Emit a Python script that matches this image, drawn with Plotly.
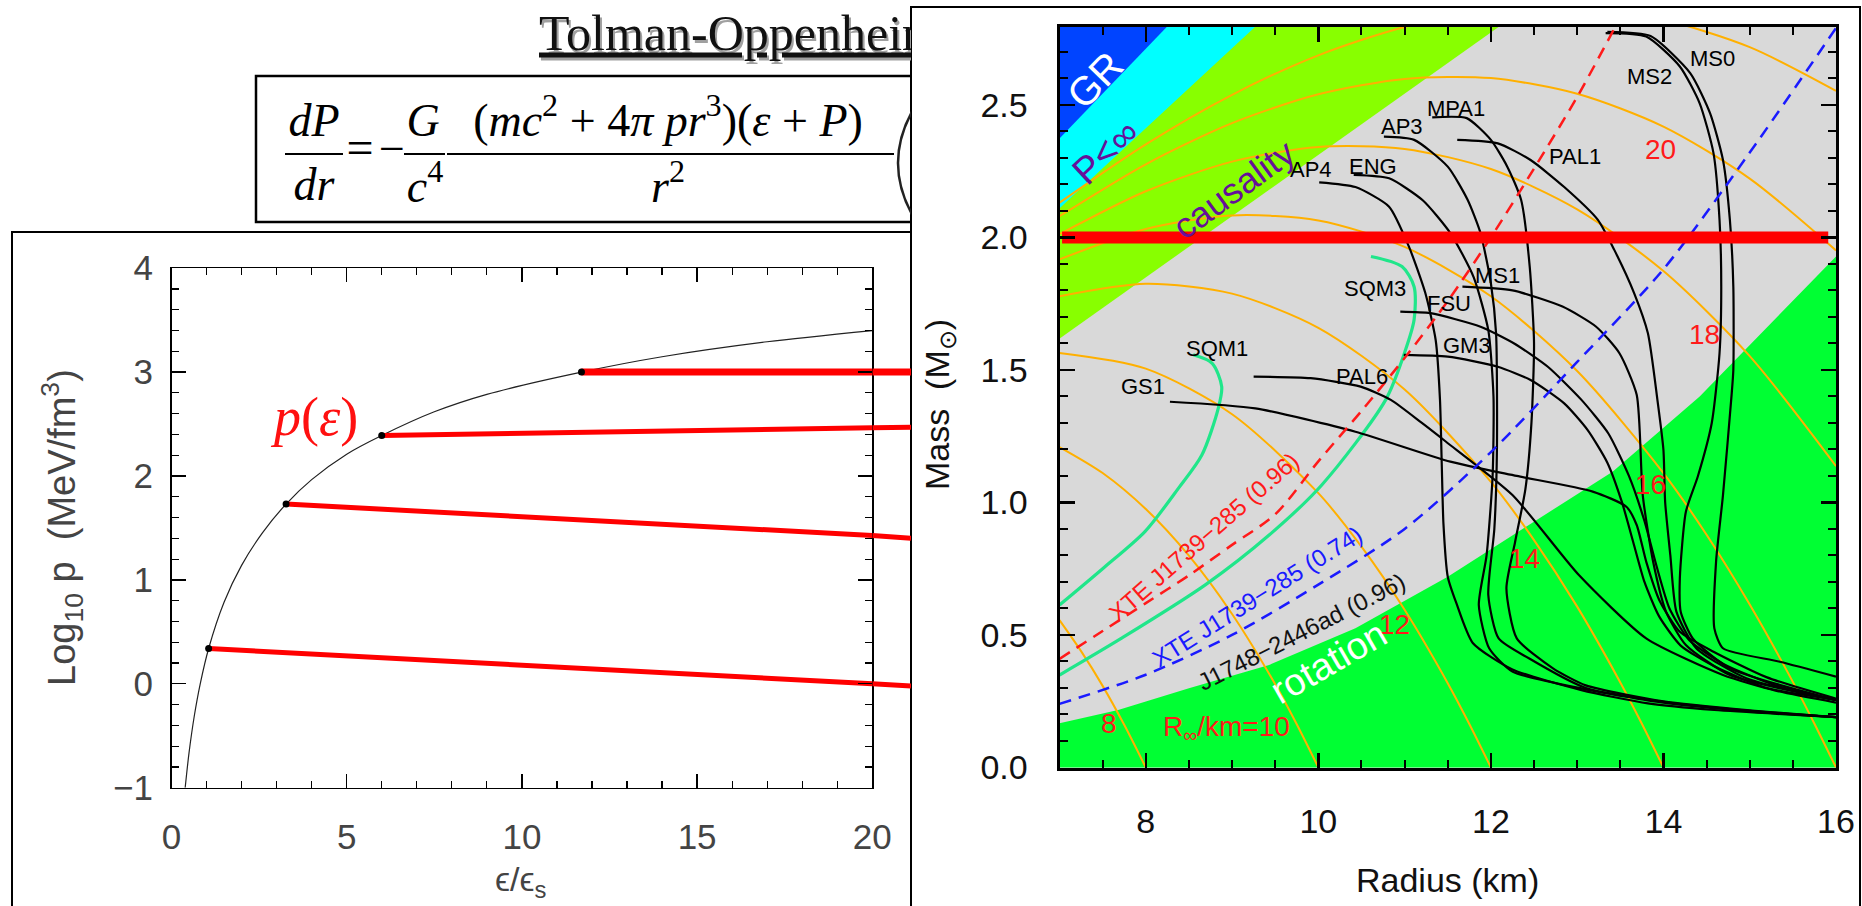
import plotly.graph_objects as go

W, H = 1862, 906
SANS = "Liberation Sans, Arial, sans-serif"
SERIF = "Liberation Serif, Times New Roman, serif"

# ---------------- Left panel data: p(eps) ----------------
eps_curve = [0.39, 0.5, 0.65, 0.82, 1.06, 1.5, 2.0, 2.6, 3.27, 4.0, 5.0, 6.0, 7.5, 9.0, 11.7, 14.0, 17.0, 20.0]
logp_curve = [-1.0, -0.665, -0.31, 0.0, 0.34, 0.785, 1.14, 1.455, 1.73, 1.965, 2.21, 2.39, 2.618, 2.786, 3.0, 3.148, 3.292, 3.40]

seg_eps_start = [1.06, 3.27, 6.0, 11.7]
seg_logp_start = [0.34, 1.73, 2.39, 3.0]
seg_eps_frame = 20.0
seg_logp_frame = [0.0, 1.427, 2.465, 3.0]
seg_eps_edge = 21.12
seg_logp_edge = [-0.02, 1.40, 2.47, 3.0]

# ---------------- Right panel data: mass-radius ----------------
gr_R, gr_M = [6.9, 8.6], [2.339, 2.915]
buch_R, buch_M = [6.9, 9.7], [2.080, 2.925]
caus_R, caus_M = [6.9, 12.7], [1.595, 2.935]
rot_R = [7.0, 7.68, 8.5, 9.43, 10.43, 11.5, 12.44, 13.41, 14.42, 14.96, 16.0]
rot_M = [0.167, 0.217, 0.299, 0.387, 0.525, 0.72, 0.915, 1.116, 1.40, 1.58, 1.928]
region_top, region_bottom, region_left, region_right = 3.1, -0.1, 6.9, 16.3

rinf_curves = {
    8: ([7.0, 7.25, 7.5, 7.75, 8.0], [0.556, 0.439, 0.308, 0.161, 0.0]),
    10: ([7.0, 7.5, 8.0, 8.5, 9.0, 9.5, 9.75, 10.0], [1.209, 1.111, 0.975, 0.799, 0.579, 0.314, 0.163, 0.0]),
    12: ([7, 8, 9, 10, 10.5, 11, 11.5, 11.75, 12], [1.564, 1.505, 1.333, 1.035, 0.833, 0.595, 0.318, 0.164, 0.0]),
    14: ([7, 8, 9, 10, 11, 12, 12.5, 13, 13.5, 13.75, 14],
         [1.778, 1.825, 1.788, 1.659, 1.426, 1.078, 0.858, 0.607, 0.321, 0.165, 0.0]),
    16: ([7, 8, 9, 10, 11, 12, 13, 14, 14.5, 15, 15.5, 15.75, 16],
         [1.917, 2.032, 2.083, 2.064, 1.964, 1.778, 1.496, 1.111, 0.878, 0.615, 0.323, 0.165, 0.0]),
    18: ([7, 8, 9, 10, 11, 12, 13, 14, 15, 16], [2.012, 2.174, 2.286, 2.341, 2.334, 2.258, 2.106, 1.873, 1.552, 1.137]),
    20: ([7, 8, 9, 10, 11, 12, 13, 14, 15, 16], [2.080, 2.276, 2.431, 2.540, 2.598, 2.601, 2.542, 2.418, 2.222, 1.951]),
    22: ([7, 8, 9, 10, 11, 12, 13, 14, 15, 16], [2.131, 2.351, 2.538, 2.687, 2.794, 2.855, 2.865, 2.821, 2.718, 2.553]),
}

eos_curves = {
    "AP4": ([10.01, 10.43, 10.82, 11.05, 11.24, 11.36, 11.41, 11.43, 11.45, 11.5, 11.6, 11.79, 12.25, 13.05, 13.82, 14.59, 16.0],
            [2.208, 2.19, 2.116, 1.965, 1.79, 1.613, 1.387, 1.15, 0.92, 0.72, 0.62, 0.47, 0.37, 0.292, 0.242, 0.217, 0.19]),
    "ENG": ([10.41, 10.82, 11.21, 11.53, 11.8, 11.97, 12.03, 12.02, 11.95, 11.86, 11.98, 12.25, 13.1, 14.0, 15.0, 16.0],
            [2.236, 2.223, 2.14, 2.016, 1.85, 1.65, 1.4, 1.1, 0.8, 0.613, 0.45, 0.362, 0.295, 0.245, 0.212, 0.19]),
    "AP3": ([10.76, 11.11, 11.5, 11.73, 11.88, 12.0, 12.06, 12.07, 12.04, 11.97, 12.09, 12.44, 13.1, 14.0, 15.0, 16.0],
            [2.38, 2.368, 2.267, 2.142, 2.016, 1.827, 1.638, 1.2, 0.9, 0.651, 0.487, 0.412, 0.30, 0.248, 0.214, 0.19]),
    "MPA1": ([11.32, 11.72, 12.0, 12.19, 12.35, 12.45, 12.5, 12.47, 12.4, 12.28, 12.18, 12.3, 12.72, 13.1, 14.0, 15.0, 16.0],
             [2.453, 2.45, 2.368, 2.267, 2.142, 1.89, 1.6, 1.3, 1.05, 0.85, 0.676, 0.487, 0.374, 0.31, 0.25, 0.216, 0.19]),
    "PAL1": ([11.61, 12.08, 12.46, 12.85, 13.24, 13.43, 13.66, 13.82, 13.93, 14.0, 14.02, 14.08, 14.15, 14.38, 14.96, 16.0],
             [2.368, 2.355, 2.292, 2.19, 2.066, 1.953, 1.79, 1.638, 1.387, 1.198, 1.0, 0.8, 0.588, 0.45, 0.337, 0.255]),
    "MS1": ([11.67, 12.25, 12.83, 13.22, 13.49, 13.69, 13.76, 13.88, 14.03, 14.26, 14.77, 16.0],
            [1.814, 1.80, 1.739, 1.663, 1.563, 1.406, 1.028, 0.777, 0.588, 0.462, 0.349, 0.255]),
    "MS2": ([13.33, 13.8, 14.19, 14.42, 14.58, 14.65, 14.67, 14.65, 14.56, 14.4, 14.26, 14.19, 14.2, 14.34, 14.77, 16.0],
            [2.771, 2.758, 2.645, 2.506, 2.318, 2.066, 1.814, 1.563, 1.3, 1.1, 0.965, 0.714, 0.588, 0.487, 0.374, 0.255]),
    "MS0": ([13.35, 13.85, 14.31, 14.54, 14.69, 14.77, 14.81, 14.81, 14.79, 14.69, 14.61, 14.59, 14.69, 15.35, 16.0],
            [2.776, 2.76, 2.62, 2.469, 2.292, 2.066, 1.814, 1.5, 1.406, 1.028, 0.777, 0.525, 0.45, 0.399, 0.343]),
    "FSU": ([10.95, 11.3, 11.88, 12.27, 12.66, 13.05, 13.36, 13.6, 13.78, 13.92, 14.07, 14.3, 14.7, 15.3, 16.0],
            [1.72, 1.714, 1.663, 1.60, 1.512, 1.387, 1.261, 1.10, 0.93, 0.76, 0.60, 0.48, 0.39, 0.31, 0.255]),
    "GM3": ([10.99, 11.5, 12.08, 12.46, 12.85, 13.12, 13.35, 13.52, 13.65, 13.78, 13.95, 14.2, 14.6, 15.2, 16.0],
            [1.557, 1.55, 1.512, 1.462, 1.374, 1.274, 1.15, 1.0, 0.85, 0.70, 0.57, 0.46, 0.38, 0.30, 0.255]),
    "PAL6": ([9.25, 9.91, 10.49, 10.84, 11.2, 11.48, 12.25, 13.02, 13.8, 14.69, 15.3, 16.0],
             [1.475, 1.469, 1.437, 1.387, 1.30, 1.229, 1.028, 0.726, 0.487, 0.349, 0.29, 0.245]),
    "GS1": ([8.28, 9.27, 10.43, 11.53, 12.3, 13.18, 13.57, 13.69, 13.8, 13.96, 14.19, 14.58, 15.2, 16.0],
            [1.38, 1.355, 1.267, 1.154, 1.10, 1.041, 0.984, 0.915, 0.777, 0.626, 0.512, 0.437, 0.34, 0.26]),
}

sqm_curves = {
    "SQM1": ([8.55, 8.77, 8.88, 8.84, 8.65, 8.38, 7.99, 7.5, 7.0],
             [1.557, 1.525, 1.437, 1.355, 1.179, 1.054, 0.89, 0.75, 0.613]),
    "SQM3": ([10.61, 10.97, 11.11, 11.11, 11.01, 10.78, 10.04, 9.43, 8.69, 7.72, 7.0],
             [1.928, 1.89, 1.814, 1.689, 1.575, 1.387, 1.066, 0.877, 0.689, 0.488, 0.349]),
}

xte96_R = [7.0, 7.5, 8.0, 8.5, 9.0, 9.5, 10.0, 10.5, 11.0, 11.5, 12.0, 12.5, 13.0, 13.45]
xte96_M = [0.41, 0.515, 0.62, 0.725, 0.84, 0.955, 1.155, 1.345, 1.545, 1.76, 2.0, 2.26, 2.53, 2.80]
xte74_R = [7.0, 8.0, 9.0, 10.0, 11.0, 12.0, 13.0, 14.0, 15.0, 16.0]
xte74_M = [0.24, 0.35, 0.50, 0.69, 0.90, 1.19, 1.53, 1.88, 2.32, 2.79]

two_solar_R = [7.03, 15.91]
two_solar_M = [2.0, 2.0]

eos_label_names = ["GS1", "SQM1", "PAL6", "SQM3", "AP4", "ENG", "AP3", "MPA1", "PAL1", "MS2", "MS0", "MS1", "FSU", "GM3"]
eos_label_R = [7.97, 8.83, 10.51, 10.66, 9.91, 10.63, 10.97, 11.6, 12.97, 13.84, 14.57, 12.08, 11.52, 11.72]
eos_label_M = [1.437, 1.582, 1.475, 1.808, 2.255, 2.267, 2.418, 2.488, 2.305, 2.607, 2.676, 1.858, 1.752, 1.594]

rinf_label_text = ["8", "R<sub>∞</sub>/km=10", "12", "14", "16", "18", "20"]
rinf_label_R = [7.57, 8.94, 10.88, 12.39, 13.85, 14.48, 13.97]
rinf_label_M = [0.167, 0.148, 0.538, 0.789, 1.066, 1.632, 2.33]

# ---------------- geometry ----------------
left_x = [171.5 / W, 872.3 / W]
left_y = [(H - 787.7) / H, (H - 268.2) / H]
strip_x = [872.3 / W, 911.0 / W]
right_x = [1059.5 / W, 1836.0 / W]
right_y = [(H - 767.5) / H, (H - 26.7) / H]
head_x = [0, 911.0 / W]
head_y = [(H - 230) / H, 1]

fig = go.Figure()


def lines(x, y, color, width, xa, ya, dash=None, shape="spline", smoothing=0.8):
    fig.add_trace(go.Scatter(x=x, y=y, mode="lines", xaxis=xa, yaxis=ya,
                             line=dict(color=color, width=width, dash=dash, shape=shape, smoothing=smoothing),
                             hoverinfo="skip", showlegend=False))


def poly(x, y, color):
    fig.add_trace(go.Scatter(x=x, y=y, mode="lines", fill="toself", fillcolor=color,
                             line=dict(width=0), xaxis="x2", yaxis="y2", hoverinfo="skip", showlegend=False))


def text_trace(x, y, txt, size, xa="x3", ya="y3", color="black", family=SERIF, pos="middle center"):
    fig.add_trace(go.Scatter(x=[x], y=[y], mode="text", text=[txt], textposition=pos,
                             textfont=dict(family=family, size=size, color=color), cliponaxis=True,
                             xaxis=xa, yaxis=ya, hoverinfo="skip", showlegend=False))


# ---------------- left panel ----------------
lines(eps_curve, logp_curve, "#222222", 1.2, "x", "y")
for i in range(4):
    w = 7 if i == 3 else 5
    lines([seg_eps_start[i], seg_eps_frame], [seg_logp_start[i], seg_logp_frame[i]], "#ff0000", w, "x", "y", shape="linear")
    lines([seg_eps_frame, seg_eps_edge], [seg_logp_frame[i], seg_logp_edge[i]], "#ff0000", w, "x4", "y4", shape="linear")
fig.add_trace(go.Scatter(x=seg_eps_start, y=seg_logp_start, mode="markers", xaxis="x", yaxis="y",
                         marker=dict(color="black", size=7), hoverinfo="skip", showlegend=False))

# ---------------- right panel ----------------
poly(caus_R + [caus_R[1], caus_R[0]], caus_M + [region_top, region_top], "#88ff00")
poly(buch_R + [buch_R[1], buch_R[0]], buch_M + [region_top, region_top], "#00ffff")
poly(gr_R + [gr_R[1], gr_R[0]], gr_M + [region_top, region_top], "#0044ff")
poly(rot_R + [region_right, region_right, region_left, region_left],
     rot_M + [rot_M[-1] + 0.1, region_bottom, region_bottom, rot_M[0]], "#00ff33")

for k, (r, m) in rinf_curves.items():
    lines(r, m, "#ffb000", 2.0, "x2", "y2")

for name, (r, m) in sqm_curves.items():
    lines(r, m, "#20e68a", 3.2, "x2", "y2")
for name, (r, m) in eos_curves.items():
    lines(r, m, "black", 2.2, "x2", "y2", smoothing=0.6)

lines(xte96_R, xte96_M, "#ff1a1a", 2.5, "x2", "y2", dash="12px,8px")
lines(xte74_R, xte74_M, "#1a1aff", 2.5, "x2", "y2", dash="12px,8px")
lines(two_solar_R, two_solar_M, "#ff0000", 12, "x2", "y2", shape="linear")

# ---------------- header (title + equation) ----------------
text_trace(541, 40, "<u>Tolman-Oppenheimer-Volkoff</u>", 50, color="#a0a0a0", pos="middle right")
text_trace(539, 37, "<u>Tolman-Oppenheimer-Volkoff</u>", 50, color="#111111", pos="middle right")
text_trace(314, 124, "<i>dP</i>", 46)
text_trace(314, 188, "<i>dr</i>", 46)
text_trace(360, 152, "=", 48)
text_trace(392, 152, "−", 46)
text_trace(423, 124, "<i>G</i>", 46)
text_trace(425, 190, "<i>c</i><sup>4</sup>", 46)
text_trace(668, 124, "(<i>mc</i><sup>2</sup> + 4<i>π pr</i><sup>3</sup>)(<i>ε</i> + <i>P</i>)", 46)
text_trace(668, 190, "<i>r</i><sup>2</sup>", 46)

shapes = [
    dict(type="rect", xref="paper", yref="paper", x0=12 / W, x1=911 / W, y0=-0.05, y1=(H - 232) / H,
         line=dict(color="black", width=2), layer="below"),
    dict(type="rect", xref="paper", yref="paper", x0=911 / W, x1=1860 / W, y0=-0.05, y1=(H - 7) / H,
         line=dict(color="black", width=2), layer="below"),
    dict(type="rect", xref="x2 domain", yref="y2 domain", x0=0, x1=1, y0=0, y1=1,
         fillcolor="#d9d9d9", line=dict(width=0), layer="below"),
    dict(type="rect", xref="x3", yref="y3", x0=256, x1=1000, y0=76, y1=222,
         line=dict(color="black", width=2.5)),
    dict(type="line", xref="x3", yref="y3", x0=285, x1=343, y0=154, y1=154, line=dict(color="black", width=2.2)),
    dict(type="line", xref="x3", yref="y3", x0=404, x1=445, y0=154, y1=154, line=dict(color="black", width=2.2)),
    dict(type="line", xref="x3", yref="y3", x0=447, x1=894, y0=154, y1=154, line=dict(color="black", width=2.2)),
    # large opening parenthesis of the equation (cut by the right panel)
    dict(type="path", xref="x3", yref="y3", path="M 914,108 Q 882,163 914,218",
         line=dict(color="#222222", width=2.5)),
]

ann = []


def add_ann(x, y, text, xref, yref, font, angle=0):
    ann.append(dict(x=x, y=y, xref=xref, yref=yref, text=text, showarrow=False, textangle=angle,
                    xanchor="center", yanchor="middle", font=font))


for nm, r, m in zip(eos_label_names, eos_label_R, eos_label_M):
    add_ann(r, m, nm, "x2", "y2", dict(family=SANS, size=22, color="black"))
for t, r, m in zip(rinf_label_text, rinf_label_R, rinf_label_M):
    add_ann(r, m, t, "x2", "y2", dict(family=SANS, size=28, color="#ff1a1a"))

rot_texts = [
    ("GR", 7.41, 2.594, -46, "white", 40),
    ("P&lt;∞", 7.53, 2.324, -43, "#661199", 38),
    ("causality", 9.02, 2.179, -36, "#661199", 36),
    ("XTE J1739−285 (0.96)", 8.68, 0.87, -41, "#ff1a1a", 24),
    ("XTE J1739−285 (0.74)", 9.29, 0.645, -32, "#1a1aff", 24),
    ("J1748−2446ad (0.96)", 9.81, 0.513, -27, "#111111", 24),
    ("rotation", 10.12, 0.399, -30, "white", 38),
]
for t, r, m, a, c, s in rot_texts:
    add_ann(r, m, t, "x2", "y2", dict(family=SANS, size=s, color=c), angle=a)

add_ann(4.06, 2.57, "<i>p</i>(<i>ε</i>)", "x", "y", dict(family=SERIF, size=54, color="#ff1010"))

# axis titles
add_ann(62 / W, (H - 528) / H, "Log<sub>10</sub> p  (MeV/fm<sup>3</sup>)", "paper", "paper",
        dict(family=SANS, size=38, color="#444444"), angle=-90)
add_ann(521 / W, (H - 881) / H, "ϵ/ϵ<sub>s</sub>", "paper", "paper", dict(family=SANS, size=34, color="#444444"))
add_ann(1447 / W, (H - 880) / H, "Radius (km)", "paper", "paper", dict(family=SANS, size=34, color="#111111"))
add_ann(940 / W, (H - 405) / H, "Mass  (M<sub>⊙</sub>)", "paper", "paper",
        dict(family=SANS, size=34, color="#111111"), angle=-90)


def ax_common(**kw):
    d = dict(showgrid=False, zeroline=False, ticks="inside", tickcolor="black", showline=True,
             linecolor="black", mirror="ticks", fixedrange=True, automargin=False)
    d.update(kw)
    return d


def hidden_ax(**kw):
    d = dict(visible=False, fixedrange=True, automargin=False, showgrid=False, zeroline=False)
    d.update(kw)
    return d


fig.update_layout(
    template="none",
    width=W, height=H, autosize=False, margin=dict(l=0, r=0, t=0, b=0, pad=0),
    paper_bgcolor="white", plot_bgcolor="rgba(0,0,0,0)", showlegend=False,
    xaxis=ax_common(domain=left_x, anchor="y", range=[0, 20], tick0=0, dtick=5, ticklen=14, tickwidth=1.3,
                    linewidth=1.6, tickfont=dict(family=SANS, size=35, color="#444444"), ticklabelstandoff=18,
                    minor=dict(tick0=0, dtick=1, ticks="inside", ticklen=7, tickwidth=1.2, tickcolor="black")),
    yaxis=ax_common(domain=left_y, anchor="x", range=[-1, 4], tick0=0, dtick=1, ticklen=14, tickwidth=1.3,
                    linewidth=1.6, tickfont=dict(family=SANS, size=35, color="#444444"), ticklabelstandoff=10,
                    minor=dict(tick0=0, dtick=0.2, ticks="inside", ticklen=7, tickwidth=1.2, tickcolor="black")),
    xaxis2=ax_common(domain=right_x, anchor="y2", range=[7, 16], tick0=0, dtick=2, ticklen=15, tickwidth=2.5,
                     linewidth=3, tickfont=dict(family=SANS, size=34, color="#111111"), ticklabelstandoff=22,
                     minor=dict(tick0=0, dtick=0.5, ticks="inside", ticklen=8, tickwidth=2, tickcolor="black")),
    yaxis2=ax_common(domain=right_y, anchor="x2", range=[0, 2.795], tick0=0, dtick=0.5, tickformat=".1f",
                     ticklen=15, tickwidth=2.5, linewidth=3,
                     tickfont=dict(family=SANS, size=34, color="#111111"), ticklabelstandoff=22,
                     minor=dict(tick0=0, dtick=0.1, ticks="inside", ticklen=8, tickwidth=2, tickcolor="black")),
    xaxis3=hidden_ax(domain=head_x, anchor="y3", range=[0, 911]),
    yaxis3=hidden_ax(domain=head_y, anchor="x3", range=[230, 0]),
    xaxis4=hidden_ax(domain=strip_x, anchor="y4", range=[20, seg_eps_edge]),
    yaxis4=hidden_ax(domain=left_y, anchor="x4", range=[-1, 4]),
    shapes=shapes, annotations=ann,
)

fig.write_html("out.html", config={"displayModeBar": False, "staticPlot": True},
               post_script="document.body.style.margin='0px';document.body.style.overflow='hidden';")
